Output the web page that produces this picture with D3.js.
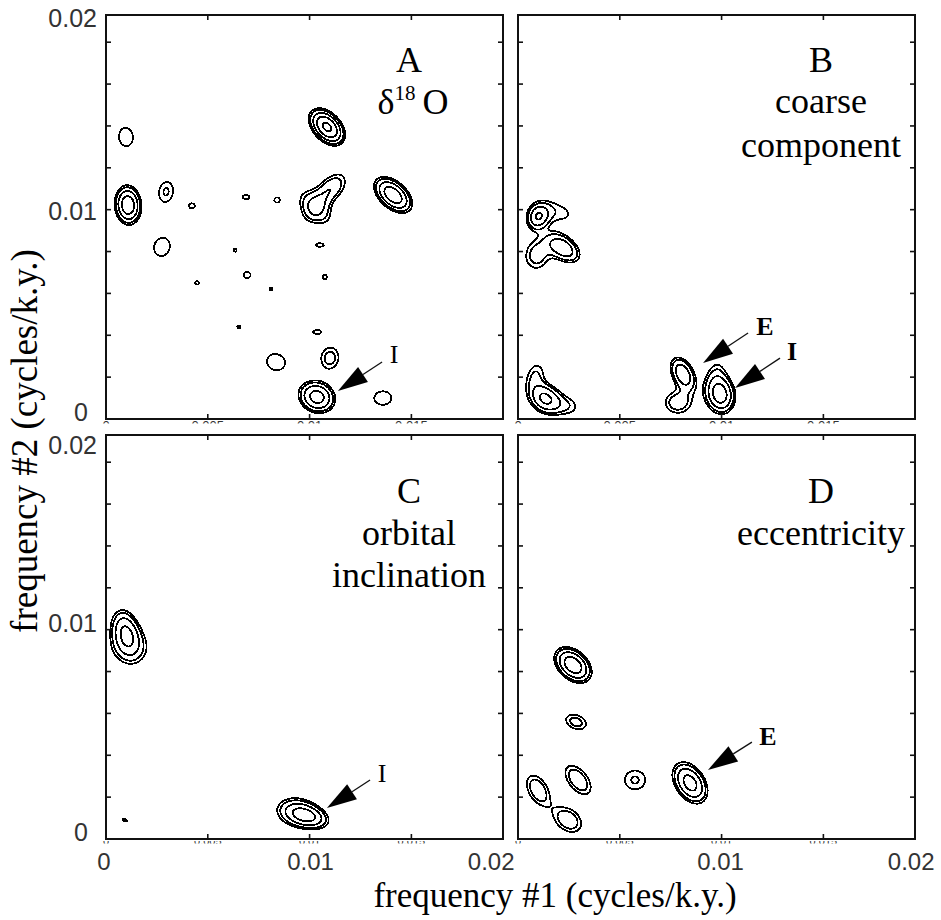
<!DOCTYPE html>
<html><head><meta charset="utf-8">
<script src="https://cdn.jsdelivr.net/npm/d3@7"></script>
<style>body{margin:0;background:#fff}</style>
</head><body>
<svg id="c" width="941" height="920"></svg>
<script>
// ---- DATA (frequencies in 10^-3 cycles/k.y.) ----
// each peak: [freq1, freq2, amplitude, outer semi-axis a, outer semi-axis b, tilt (deg)]
const peaksA = [
  [0.98, 13.47, 1.25, 0.44, 0.34, 95],
  [1.08, 10.22, 4.5, 0.95, 0.66, 95],
  [2.95, 10.85, 1.42, 0.48, 0.34, 80],
  [4.22, 10.18, 1.15, 0.14, 0.12, 0],
  [6.88, 10.60, 1.15, 0.17, 0.10, 0],
  [8.40, 10.46, 1.15, 0.13, 0.12, 0],
  [10.27, 10.08, 1.8, 0.82, 0.48, -45],
  [10.72, 10.62, 1.02, 0.22, 0.07, 50],
  [11.10, 11.05, 1.12, 0.30, 0.22, 30],
  [10.85, 13.95, 5.5, 1.07, 0.68, -45],
  [14.10, 10.70, 4.5, 1.10, 0.65, -40],
  [2.75, 8.22, 1.25, 0.44, 0.38, 70],
  [6.34, 8.07, 1.1, 0.08, 0.08, 0],
  [10.50, 8.31, 1.15, 0.18, 0.08, 0],
  [6.93, 6.88, 1.2, 0.17, 0.15, 0],
  [10.75, 6.78, 1.1, 0.11, 0.10, 45],
  [4.47, 6.50, 1.1, 0.10, 0.08, 0],
  [8.10, 6.21, 1.1, 0.07, 0.07, 0],
  [6.53, 4.40, 1.1, 0.08, 0.07, 0],
  [10.36, 4.16, 1.15, 0.18, 0.09, 0],
  [8.35, 2.72, 1.25, 0.45, 0.38, -20],
  [11.00, 2.91, 1.6, 0.50, 0.42, 80],
  [10.36, 1.05, 4.0, 0.92, 0.75, -20],
  [13.60, 1.00, 1.25, 0.42, 0.32, 0]
];
const peaksB = [
  [0.98, 9.65, 3.0, 0.60, 0.50, 60],
  [1.92, 9.90, 1.2, 0.55, 0.30, -15],
  [2.21, 8.17, 3.0, 0.92, 0.55, -35],
  [0.93, 7.84, 1.7, 0.62, 0.52, 80],
  [1.30, 1.00, 3.3, 0.80, 0.65, -35],
  [0.85, 2.10, 1.35, 0.45, 0.30, 70],
  [2.30, 0.65, 1.3, 0.50, 0.30, -10],
  [8.10, 2.15, 3.0, 0.85, 0.52, -62],
  [7.85, 0.78, 1.8, 0.60, 0.48, 0],
  [9.95, 1.15, 4.0, 0.92, 0.72, 100],
  [9.72, 2.10, 1.1, 0.32, 0.18, 80]
];
const peaksC = [
  [0.98, 9.85, 3.3, 1.10, 0.66, -75],
  [1.20, 9.10, 1.2, 0.50, 0.40, 0],
  [9.85, 1.10, 3.5, 1.08, 0.55, -15],
  [9.25, 1.35, 1.25, 0.50, 0.38, 0],
  [0.93, 0.90, 1.1, 0.12, 0.05, -20]
];
const peaksD = [
  [2.70, 8.31, 4.5, 1.05, 0.70, -40],
  [2.85, 5.59, 1.6, 0.50, 0.32, -20],
  [2.95, 2.82, 1.9, 0.80, 0.45, -50],
  [0.98, 2.34, 1.9, 0.75, 0.45, -60],
  [2.46, 0.91, 1.9, 0.70, 0.50, -35],
  [5.75, 2.82, 1.42, 0.50, 0.45, 0],
  [8.45, 2.68, 4.0, 1.10, 0.72, -55]
];
const contourLevels = [1, 1.35, 2.1, 3.3, 5];

const yTickValues = [0.002, 0.004, 0.006, 0.008, 0.010, 0.012, 0.014, 0.016, 0.018];
const xTickValues = [0.005, 0.010, 0.015];
const hiddenTickValues = [0, 0.005, 0.01, 0.015];
const hiddenTickLabels = ["0", "0.005", "0.01", "0.015"];
const yLabelValues = [0, 0.01, 0.02];
const yLabelTexts = ["0", "0.01", "0.02"];
const xLabelTextsC = ["0", "0.01", "0.02"];
const xLabelValuesC = [0, 0.01, 0.02];
const xLabelTextsD = ["0.01", "0.02"];
const xLabelValuesD = [0.01, 0.02];

const titlesA = ["A"];
const titlesB = ["B", "coarse", "component"];
const titlesC = ["C", "orbital", "inclination"];
const titlesD = ["D", "eccentricity"];

const arrowsA = [{label: "I", tip: [11.39, 1.34], tail: [13.56, 2.72], at: [14.15, 2.68]}];
const arrowsB = [{label: "E", tip: [9.09, 2.68], tail: [11.30, 4.11], at: [12.13, 4.01]},
                 {label: "I", tip: [10.66, 1.48], tail: [12.87, 2.91], at: [13.46, 2.82]}];
const arrowsC = [{label: "I", tip: [10.85, 1.48], tail: [12.97, 2.82], at: [13.56, 2.72]}];
const arrowsD = [{label: "E", tip: [9.33, 3.30], tail: [11.49, 4.63], at: [12.28, 4.49]}];

const xTitle = "frequency #1 (cycles/k.y.)";
const yTitle = "frequency #2 (cycles/k.y.)";

// ---- LAYOUT ----
const unit = 1e-3;
const xMax = 0.0195, yMax = 0.0193;
const panels = [
  {id: "A", peaks: peaksA, titles: titlesA, arrows: arrowsA, x0: 106, x1: 503, y0: 15, y1: 419, top: true, left: true, bold: false},
  {id: "B", peaks: peaksB, titles: titlesB, arrows: arrowsB, x0: 518, x1: 915, y0: 15, y1: 419, top: true, left: false, bold: true},
  {id: "C", peaks: peaksC, titles: titlesC, arrows: arrowsC, x0: 106, x1: 503, y0: 435, y1: 839, top: false, left: true, bold: false},
  {id: "D", peaks: peaksD, titles: titlesD, arrows: arrowsD, x0: 518, x1: 915, y0: 435, y1: 839, top: false, left: false, bold: true}
];
const serif = "'Liberation Serif','Times New Roman',serif";
const sans = "'Liberation Sans',Arial,sans-serif";

const svg = d3.select("#c");
svg.append("rect").attr("width", 941).attr("height", 920).attr("fill", "#fff");
const defs = svg.append("defs");

const step = 0.05;
function field(peaks, nx, ny) {
  const vals = new Float64Array(nx * ny);
  for (const [px, py, amp, a, b, ang] of peaks) {
    const k = Math.sqrt(2 * Math.log(amp));
    const sa = a / k, sb = b / k;
    const t = ang * Math.PI / 180, c = Math.cos(t), s = Math.sin(t);
    const r = Math.max(sa, sb) * 5;
    const i0 = Math.max(0, Math.floor((px - r) / step)), i1 = Math.min(nx - 1, Math.ceil((px + r) / step));
    const j0 = Math.max(0, Math.floor((py - r) / step)), j1 = Math.min(ny - 1, Math.ceil((py + r) / step));
    for (let j = j0; j <= j1; j++) {
      const dy = j * step - py;
      for (let i = i0; i <= i1; i++) {
        const dx = i * step - px;
        const u = dx * c + dy * s, v = -dx * s + dy * c;
        vals[j * nx + i] += amp * Math.exp(-0.5 * (u * u / (sa * sa) + v * v / (sb * sb)));
      }
    }
  }
  return Array.from(vals);
}

panels.forEach(p => {
  const x = d3.scaleLinear().domain([0, xMax]).range([p.x0, p.x1]);
  const y = d3.scaleLinear().domain([0, yMax]).range([p.y1, p.y0]);
  const g = svg.append("g");

  // bottom tick labels hidden under the next panel: only a sliver remains visible
  const clipId = "hid" + p.id;
  const hy = p.y1 + 2;
  const hb = p.top ? hy + 9.3 : hy + 4.0;
  const hs = p.top ? 13 : 11;
  defs.append("clipPath").attr("id", clipId).append("rect")
    .attr("x", p.x0 - 20).attr("y", hy).attr("width", p.x1 - p.x0 + 40).attr("height", 2.6);
  g.append("g").attr("clip-path", `url(#${clipId})`)
    .selectAll("text").data(hiddenTickValues).join("text")
    .attr("x", d => x(d)).attr("y", hb)
    .attr("text-anchor", "middle").attr("font-family", sans).attr("font-size", hs).attr("fill", "#333")
    .text((d, i) => hiddenTickLabels[i]);

  // contours
  const nx = Math.ceil(xMax / unit / step) + 2, ny = Math.ceil(yMax / unit / step) + 2;
  const vals = field(p.peaks, nx, ny);
  const cs = d3.contours().size([nx, ny]).thresholds(contourLevels)(vals);
  const proj = d3.geoTransform({point(gx, gy) {
    this.stream.point(x((gx - 0.5) * step * unit), y((gy - 0.5) * step * unit));
  }});
  const path = d3.geoPath(proj);
  const cid = "pc" + p.id;
  defs.append("clipPath").attr("id", cid).append("rect")
    .attr("x", p.x0).attr("y", p.y0).attr("width", p.x1 - p.x0).attr("height", p.y1 - p.y0);
  g.append("g").attr("clip-path", `url(#${cid})`)
    .selectAll("path").data(cs).join("path")
    .attr("d", path).attr("fill", "none").attr("stroke", "#000").attr("stroke-width", 1.8)
    .attr("stroke-linejoin", "round").attr("shape-rendering", "crispEdges");

  // frame
  g.append("rect").attr("x", p.x0).attr("y", p.y0).attr("width", p.x1 - p.x0).attr("height", p.y1 - p.y0)
    .attr("fill", "none").attr("stroke", "#111").attr("stroke-width", 2);
  // ticks
  const tk = 5;
  g.selectAll("line.yl").data(yTickValues).join("line")
    .attr("x1", p.x0).attr("x2", p.x0 + tk).attr("y1", d => y(d)).attr("y2", d => y(d))
    .attr("stroke", "#111").attr("stroke-width", 1.6);
  g.selectAll("line.yr").data(yTickValues).join("line")
    .attr("x1", p.x1).attr("x2", p.x1 - tk).attr("y1", d => y(d)).attr("y2", d => y(d))
    .attr("stroke", "#111").attr("stroke-width", 1.6);
  g.selectAll("line.xt").data(xTickValues).join("line")
    .attr("x1", d => x(d)).attr("x2", d => x(d)).attr("y1", p.y0).attr("y2", p.y0 + tk)
    .attr("stroke", "#111").attr("stroke-width", 1.6);
  g.selectAll("line.xb").data(xTickValues).join("line")
    .attr("x1", d => x(d)).attr("x2", d => x(d)).attr("y1", p.y1).attr("y2", p.y1 - tk)
    .attr("stroke", "#111").attr("stroke-width", 1.6);

  // left tick labels
  if (p.left) {
    const pos = p.top ? [421, 220, 27] : [841, 632, 454];
    g.selectAll("text.yl").data(yLabelValues).join("text")
      .attr("x", (d, i) => i === 0 ? 88 : 97).attr("y", (d, i) => pos[i])
      .attr("text-anchor", "end").attr("font-family", sans).attr("font-size", 25).attr("fill", "#333")
      .text((d, i) => yLabelTexts[i]);
  }
  // bottom tick labels
  if (!p.top) {
    const vs = p.left ? xLabelValuesC : xLabelValuesD;
    const ts = p.left ? xLabelTextsC : xLabelTextsD;
    const adj = p.left ? [-2, 1, -22] : [-1, -14];
    g.selectAll("text.xl").data(vs).join("text")
      .attr("x", (d, i) => x(d) + adj[i]).attr("y", 870)
      .attr("text-anchor", "middle").attr("font-family", sans).attr("font-size", 24).attr("fill", "#333")
      .text((d, i) => ts[i]);
  }

  // panel titles
  const cx = p.x1 - 94;
  const base = p.top ? [72, 113, 157] : [503, 545, 587];
  p.titles.forEach((t, i) => {
    g.append("text").attr("x", cx).attr("y", base[i]).attr("text-anchor", "middle")
      .attr("font-family", serif).attr("font-size", 36).attr("fill", "#000").text(t);
  });
  if (p.id === "A") {
    const t = g.append("text").attr("x", cx + 4).attr("y", 114).attr("text-anchor", "middle")
      .attr("font-family", serif).attr("font-size", 36).attr("fill", "#000");
    t.append("tspan").text("δ");
    t.append("tspan").attr("font-size", 21).attr("dy", -14).text("18");
    t.append("tspan").attr("dy", 14).text("\u2009O");
  }

  // arrows
  p.arrows.forEach(a => {
    const tx = x(a.tip[0] * unit), ty = y(a.tip[1] * unit);
    const ex = x(a.tail[0] * unit), ey = y(a.tail[1] * unit);
    const L = Math.hypot(ex - tx, ey - ty), ux = (ex - tx) / L, uy = (ey - ty) / L;
    const bx = tx + ux * 30, by = ty + uy * 30, w = 9;
    g.append("path")
      .attr("d", `M${tx},${ty}L${bx - uy * w},${by + ux * w}L${bx + uy * w},${by - ux * w}Z`)
      .attr("fill", "#000");
    g.append("line").attr("x1", bx).attr("y1", by).attr("x2", ex).attr("y2", ey)
      .attr("stroke", "#111").attr("stroke-width", 1.3);
    g.append("text").attr("x", x(a.at[0] * unit)).attr("y", y(a.at[1] * unit))
      .attr("text-anchor", "middle").attr("font-family", serif).attr("font-size", 26)
      .attr("font-weight", p.bold ? "bold" : "normal").attr("fill", "#000").text(a.label);
  });
});

// axis titles
svg.append("text").attr("x", 555).attr("y", 906.5).attr("text-anchor", "middle")
  .attr("font-family", serif).attr("font-size", 35).attr("fill", "#000").text(xTitle);
svg.append("text").attr("transform", "translate(37,441) rotate(-90)").attr("text-anchor", "middle")
  .attr("font-family", serif).attr("font-size", 37).attr("fill", "#000").text(yTitle);
</script>
</body></html>
